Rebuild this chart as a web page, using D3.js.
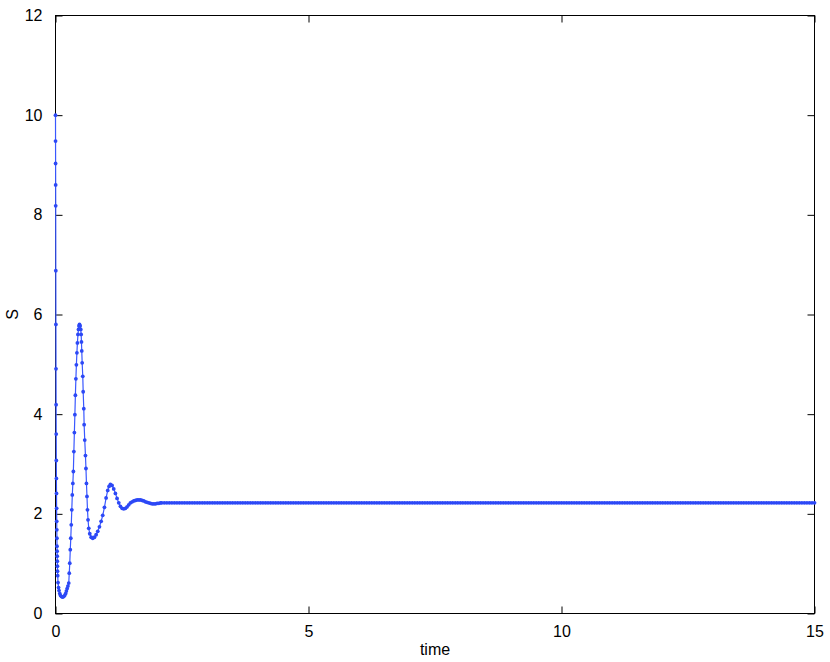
<!DOCTYPE html>
<html>
<head>
<meta charset="utf-8">
<script src="https://cdn.jsdelivr.net/npm/d3@7"></script>
<style>
	body { margin: 0; background: #fff; }
	svg text { font-family: "Liberation Sans", Arial, sans-serif; fill: #000; }
</style>
</head>
<body>
<div class="chart"></div>
<script>
// values
var transientTime = [
	0, 0.001, 0.002, 0.003, 0.004, 0.006, 0.008, 0.010, 0.012, 0.014, 0.016, 0.018, 0.020, 0.022, 0.024, 0.026, 0.028, 0.030, 0.032, 0.034, 0.036, 0.038, 0.040, 0.043,
	0.05, 0.06, 0.07, 0.085, 0.10, 0.12, 0.14, 0.16, 0.18, 0.20, 0.215, 0.23, 0.245,
	0.262, 0.272, 0.282, 0.292, 0.302, 0.312, 0.322, 0.332, 0.343, 0.353, 0.363, 0.373, 0.383, 0.393, 0.403, 0.413, 0.423, 0.433, 0.444, 0.454, 0.464, 0.474,
	0.487, 0.499, 0.507, 0.513, 0.519, 0.527, 0.539, 0.547, 0.559, 0.566, 0.578, 0.592, 0.602, 0.612, 0.622, 0.632, 0.643, 0.657, 0.677, 0.705, 0.736, 0.770, 0.803, 0.835, 0.868, 0.902, 0.933, 0.967, 1.0, 1.032, 1.058,
	1.085, 1.118, 1.151, 1.184, 1.217, 1.25, 1.283, 1.316, 1.349, 1.382, 1.415, 1.448, 1.481, 1.514, 1.547, 1.58, 1.613, 1.646, 1.679, 1.712, 1.745, 1.778, 1.811, 1.844, 1.877, 1.91, 1.943, 1.976, 2.009, 2.042, 2.075
];
var transientS = [
	10, 9.48, 9.03, 8.6, 8.18, 6.88, 5.8, 4.91, 4.19, 3.6, 3.07, 2.71, 2.41, 2.11, 1.85, 1.68, 1.51, 1.35, 1.25, 1.15, 1.05, 0.95, 0.85, 0.76,
	0.62, 0.52, 0.46, 0.40, 0.36, 0.34, 0.33, 0.34, 0.36, 0.40, 0.45, 0.50, 0.55,
	0.61, 0.81, 1.01, 1.28, 1.51, 1.78, 2.08, 2.38, 2.61, 2.85, 3.25, 3.63, 3.99, 4.38, 4.71, 4.99, 5.23, 5.43, 5.6, 5.7, 5.77, 5.8,
	5.77, 5.7, 5.6, 5.45, 5.27, 5.03, 4.76, 4.45, 4.11, 3.79, 3.48, 3.17, 2.91, 2.61, 2.35, 2.08, 1.88, 1.71, 1.6, 1.53, 1.51, 1.53, 1.58, 1.65, 1.74, 1.85, 1.97, 2.13, 2.32, 2.47, 2.55,
	2.59, 2.57, 2.50, 2.41, 2.31, 2.22, 2.15, 2.11, 2.10, 2.11, 2.14, 2.18, 2.22, 2.24, 2.26, 2.27, 2.28, 2.28, 2.28, 2.27, 2.26, 2.24, 2.23, 2.22, 2.21, 2.20, 2.20, 2.20, 2.21, 2.21, 2.22
];
var tailTime = [
	2.1,2.15,2.2,2.25,2.3,2.35,2.4,2.45,2.5,2.55,2.6,2.65,2.7,2.75,2.8,2.85,2.9,2.95,
	3,3.05,3.1,3.15,3.2,3.25,3.3,3.35,3.4,3.45,3.5,3.55,3.6,3.65,3.7,3.75,3.8,3.85,3.9,3.95,
	4,4.05,4.1,4.15,4.2,4.25,4.3,4.35,4.4,4.45,4.5,4.55,4.6,4.65,4.7,4.75,4.8,4.85,4.9,4.95,
	5,5.05,5.1,5.15,5.2,5.25,5.3,5.35,5.4,5.45,5.5,5.55,5.6,5.65,5.7,5.75,5.8,5.85,5.9,5.95,
	6,6.05,6.1,6.15,6.2,6.25,6.3,6.35,6.4,6.45,6.5,6.55,6.6,6.65,6.7,6.75,6.8,6.85,6.9,6.95,
	7,7.05,7.1,7.15,7.2,7.25,7.3,7.35,7.4,7.45,7.5,7.55,7.6,7.65,7.7,7.75,7.8,7.85,7.9,7.95,
	8,8.05,8.1,8.15,8.2,8.25,8.3,8.35,8.4,8.45,8.5,8.55,8.6,8.65,8.7,8.75,8.8,8.85,8.9,8.95,
	9,9.05,9.1,9.15,9.2,9.25,9.3,9.35,9.4,9.45,9.5,9.55,9.6,9.65,9.7,9.75,9.8,9.85,9.9,9.95,
	10,10.05,10.1,10.15,10.2,10.25,10.3,10.35,10.4,10.45,10.5,10.55,10.6,10.65,10.7,10.75,10.8,10.85,10.9,10.95,
	11,11.05,11.1,11.15,11.2,11.25,11.3,11.35,11.4,11.45,11.5,11.55,11.6,11.65,11.7,11.75,11.8,11.85,11.9,11.95,
	12,12.05,12.1,12.15,12.2,12.25,12.3,12.35,12.4,12.45,12.5,12.55,12.6,12.65,12.7,12.75,12.8,12.85,12.9,12.95,
	13,13.05,13.1,13.15,13.2,13.25,13.3,13.35,13.4,13.45,13.5,13.55,13.6,13.65,13.7,13.75,13.8,13.85,13.9,13.95,
	14,14.05,14.1,14.15,14.2,14.25,14.3,14.35,14.4,14.45,14.5,14.55,14.6,14.65,14.7,14.75,14.8,14.85,14.9,14.95,
	15
];
var tailS = [
	2.22,2.22,2.22,2.22,2.22,2.22,2.22,2.22,2.22,2.22,2.22,2.22,2.22,2.22,2.22,2.22,2.22,2.22,
	2.22,2.22,2.22,2.22,2.22,2.22,2.22,2.22,2.22,2.22,2.22,2.22,2.22,2.22,2.22,2.22,2.22,2.22,2.22,2.22,
	2.22,2.22,2.22,2.22,2.22,2.22,2.22,2.22,2.22,2.22,2.22,2.22,2.22,2.22,2.22,2.22,2.22,2.22,2.22,2.22,
	2.22,2.22,2.22,2.22,2.22,2.22,2.22,2.22,2.22,2.22,2.22,2.22,2.22,2.22,2.22,2.22,2.22,2.22,2.22,2.22,
	2.22,2.22,2.22,2.22,2.22,2.22,2.22,2.22,2.22,2.22,2.22,2.22,2.22,2.22,2.22,2.22,2.22,2.22,2.22,2.22,
	2.22,2.22,2.22,2.22,2.22,2.22,2.22,2.22,2.22,2.22,2.22,2.22,2.22,2.22,2.22,2.22,2.22,2.22,2.22,2.22,
	2.22,2.22,2.22,2.22,2.22,2.22,2.22,2.22,2.22,2.22,2.22,2.22,2.22,2.22,2.22,2.22,2.22,2.22,2.22,2.22,
	2.22,2.22,2.22,2.22,2.22,2.22,2.22,2.22,2.22,2.22,2.22,2.22,2.22,2.22,2.22,2.22,2.22,2.22,2.22,2.22,
	2.22,2.22,2.22,2.22,2.22,2.22,2.22,2.22,2.22,2.22,2.22,2.22,2.22,2.22,2.22,2.22,2.22,2.22,2.22,2.22,
	2.22,2.22,2.22,2.22,2.22,2.22,2.22,2.22,2.22,2.22,2.22,2.22,2.22,2.22,2.22,2.22,2.22,2.22,2.22,2.22,
	2.22,2.22,2.22,2.22,2.22,2.22,2.22,2.22,2.22,2.22,2.22,2.22,2.22,2.22,2.22,2.22,2.22,2.22,2.22,2.22,
	2.22,2.22,2.22,2.22,2.22,2.22,2.22,2.22,2.22,2.22,2.22,2.22,2.22,2.22,2.22,2.22,2.22,2.22,2.22,2.22,
	2.22,2.22,2.22,2.22,2.22,2.22,2.22,2.22,2.22,2.22,2.22,2.22,2.22,2.22,2.22,2.22,2.22,2.22,2.22,2.22,
	2.22
];
var xTicks = [0, 5, 10, 15];
var yTicks = [0, 2, 4, 6, 8, 10, 12];

var points = [];
var allTime = transientTime.concat(tailTime);
var allS = transientS.concat(tailS);
for (var i = 0; i < allTime.length; i++) {
	points.push({t: allTime[i], s: allS[i]});
}

var svg = d3.select(".chart").append("svg").attr("width", 830).attr("height", 662);
var margin = {top: 15.5, right: 15.5, bottom: 48.5, left: 55.5};
var width = 830 - margin.left - margin.right;
var height = 662 - margin.top - margin.bottom;

var g = svg.append("g").attr("transform", "translate(" + margin.left + "," + margin.top + ")");

var x = d3.scaleLinear().domain([0, 15]).range([0, width]);
var y = d3.scaleLinear().domain([0, 12]).range([height, 0]);

// matlab style ticks: inward, on all four sides
var tickLen = 7;
g.append("g").attr("class", "axis")
	.attr("transform", "translate(0," + height + ")")
	.call(d3.axisBottom(x).tickValues(xTicks).tickSizeInner(-tickLen).tickSizeOuter(0).tickPadding(12).tickFormat(d3.format("d")));
g.append("g").attr("class", "axis")
	.call(d3.axisTop(x).tickValues(xTicks).tickSizeInner(-tickLen).tickSizeOuter(0).tickFormat(""));
g.append("g").attr("class", "axis")
	.call(d3.axisLeft(y).tickValues(yTicks).tickSizeInner(-tickLen).tickSizeOuter(0).tickPadding(13).tickFormat(d3.format("d")));
g.append("g").attr("class", "axis")
	.attr("transform", "translate(" + width + ",0)")
	.call(d3.axisRight(y).tickValues(yTicks).tickSizeInner(-tickLen).tickSizeOuter(0).tickFormat(""));

g.selectAll(".axis path").remove();
g.selectAll(".axis line").attr("stroke", "#000").attr("stroke-width", 1);
g.selectAll(".axis").attr("font-size", 16);
g.selectAll(".axis text").attr("font-size", 16).attr("fill", "#000")
	.style("font-family", "'Liberation Sans', Arial, sans-serif");

g.append("rect")
	.attr("x", 0).attr("y", 0)
	.attr("width", width).attr("height", height)
	.attr("fill", "none")
	.attr("stroke", "#000")
	.attr("stroke-width", 1);

var line = d3.line()
	.x(function(d) { return x(d.t); })
	.y(function(d) { return y(d.s); });

g.append("path")
	.datum(points)
	.attr("fill", "none")
	.attr("stroke", "#3a58ff")
	.attr("stroke-width", 1.2)
	.attr("d", line);

g.selectAll(".dot").data(points)
	.enter().append("circle")
	.attr("class", "dot")
	.attr("cx", function(d) { return x(d.t); })
	.attr("cy", function(d) { return y(d.s); })
	.attr("r", 1.9)
	.attr("fill", "#2c48f6");

svg.append("text")
	.attr("x", margin.left + width / 2)
	.attr("y", 655)
	.attr("text-anchor", "middle")
	.attr("font-size", 16)
	.text("time");

svg.append("text")
	.attr("transform", "translate(18," + (margin.top + height / 2) + ") rotate(-90)")
	.attr("text-anchor", "middle")
	.attr("font-size", 16)
	.text("S");
</script>
</body>
</html>
